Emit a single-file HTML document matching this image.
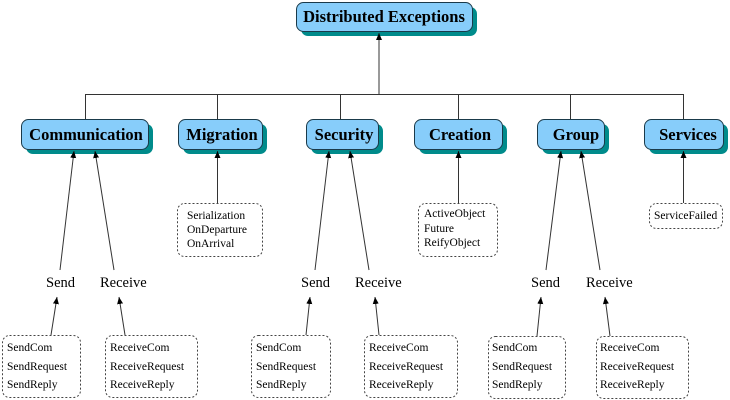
<!DOCTYPE html>
<html><head><meta charset="utf-8"><style>
html,body{margin:0;padding:0;background:#fff;}
svg{display:block;}
.b{font-family:"Liberation Serif",serif;font-weight:bold;font-size:16.5px;fill:#000;}
.t{font-family:"Liberation Serif",serif;font-size:11.5px;fill:#000;}
.l{font-family:"Liberation Serif",serif;font-size:14.5px;fill:#000;}
.ln{stroke:#333;stroke-width:1;fill:none;}
.d{fill:#fff;stroke:#444;stroke-width:1;stroke-dasharray:2,2;}
.n{fill:#87cdfa;stroke:#1a3a4a;stroke-width:1;}
.s{fill:#008b8b;}
</style></head><body>
<svg width="730" height="400" viewBox="0 0 730 400" xmlns="http://www.w3.org/2000/svg">
<defs><marker id="a" markerWidth="8" markerHeight="8" refX="7" refY="3" orient="auto" markerUnits="userSpaceOnUse"><path d="M0,0 L7,3 L0,6 z" fill="#000"/></marker></defs>

<rect class="s" x="301" y="7" width="176" height="29" rx="7"/>
<rect class="n" x="296.5" y="2.5" width="176" height="29" rx="7"/>
<text class="b" x="384" y="22" text-anchor="middle">Distributed Exceptions</text>

<line class="ln" x1="85" y1="94.5" x2="683" y2="94.5"/>
<line class="ln" x1="379" y1="94.5" x2="379" y2="33" marker-end="url(#a)"/>
<g class="ln">
<line x1="85.5" y1="94" x2="85.5" y2="119"/>
<line x1="217.5" y1="94" x2="217.5" y2="119"/>
<line x1="340.5" y1="94" x2="340.5" y2="119"/>
<line x1="458.5" y1="94" x2="458.5" y2="119"/>
<line x1="570.5" y1="94" x2="570.5" y2="119"/>
<line x1="683.5" y1="94" x2="683.5" y2="119"/>
</g>

<g>
<rect class="s" x="26" y="124" width="127" height="30" rx="7"/><rect class="n" x="21.5" y="119.5" width="127" height="30" rx="7"/>
<text class="b" x="86" y="140" text-anchor="middle">Communication</text>
<rect class="s" x="183" y="124" width="84" height="30" rx="7"/><rect class="n" x="178.5" y="119.5" width="84" height="30" rx="7"/>
<text class="b" x="222" y="140" text-anchor="middle">Migration</text>
<rect class="s" x="311" y="124" width="72" height="30" rx="7"/><rect class="n" x="306.5" y="119.5" width="72" height="30" rx="7"/>
<text class="b" x="344" y="140" text-anchor="middle">Security</text>
<rect class="s" x="419" y="124" width="88" height="30" rx="7"/><rect class="n" x="414.5" y="119.5" width="88" height="30" rx="7"/>
<text class="b" x="460" y="140" text-anchor="middle">Creation</text>
<rect class="s" x="542" y="124" width="67" height="30" rx="7"/><rect class="n" x="537.5" y="119.5" width="67" height="30" rx="7"/>
<text class="b" x="576" y="140" text-anchor="middle">Group</text>
<rect class="s" x="649" y="124" width="79" height="30" rx="7"/><rect class="n" x="644.5" y="119.5" width="79" height="30" rx="7"/>
<text class="b" x="688" y="140" text-anchor="middle">Services</text>
</g>

<rect class="d" x="177.5" y="203.5" width="85" height="53" rx="7"/>
<line class="ln" x1="217.5" y1="203" x2="217.5" y2="151" marker-end="url(#a)"/>
<text class="t" x="187" y="219">Serialization</text>
<text class="t" x="187" y="233">OnDeparture</text>
<text class="t" x="187" y="247">OnArrival</text>

<rect class="d" x="418.5" y="203.5" width="79" height="53" rx="7"/>
<line class="ln" x1="458.5" y1="203" x2="458.5" y2="151" marker-end="url(#a)"/>
<text class="t" x="424" y="217">ActiveObject</text>
<text class="t" x="424" y="232">Future</text>
<text class="t" x="424" y="246">ReifyObject</text>

<rect class="d" x="649.5" y="203.5" width="73" height="25" rx="7"/>
<line class="ln" x1="683.5" y1="203" x2="683.5" y2="151" marker-end="url(#a)"/>
<text class="t" x="654" y="219">ServiceFailed</text>

<g class="ln">
<line x1="60" y1="270" x2="74" y2="151" marker-end="url(#a)"/>
<line x1="114" y1="270" x2="95" y2="151" marker-end="url(#a)"/>
<line x1="315" y1="270" x2="329" y2="151" marker-end="url(#a)"/>
<line x1="369" y1="270" x2="350" y2="151" marker-end="url(#a)"/>
<line x1="546" y1="270" x2="561" y2="151" marker-end="url(#a)"/>
<line x1="600" y1="270" x2="581" y2="151" marker-end="url(#a)"/>
</g>
<text class="l" x="46" y="287">Send</text><text class="l" x="100" y="287">Receive</text>
<text class="l" x="301" y="287">Send</text><text class="l" x="355" y="287">Receive</text>
<text class="l" x="531" y="287">Send</text><text class="l" x="586" y="287">Receive</text>

<g>
<rect class="d" x="2.5" y="335.5" width="78" height="62" rx="7"/>
<line class="ln" x1="51" y1="335" x2="57" y2="297" marker-end="url(#a)"/>
<text class="t" x="7" y="351">SendCom</text><text class="t" x="7" y="370">SendRequest</text><text class="t" x="7" y="388">SendReply</text>

<rect class="d" x="105.5" y="335.5" width="92" height="62" rx="7"/>
<line class="ln" x1="125" y1="335" x2="119" y2="297" marker-end="url(#a)"/>
<text class="t" x="110" y="351">ReceiveCom</text><text class="t" x="110" y="370">ReceiveRequest</text><text class="t" x="110" y="388">ReceiveReply</text>

<rect class="d" x="251.5" y="335.5" width="79" height="62" rx="7"/>
<line class="ln" x1="306" y1="335" x2="310" y2="297" marker-end="url(#a)"/>
<text class="t" x="256" y="351">SendCom</text><text class="t" x="256" y="370">SendRequest</text><text class="t" x="256" y="388">SendReply</text>

<rect class="d" x="364.5" y="335.5" width="93" height="62" rx="7"/>
<line class="ln" x1="379" y1="335" x2="375" y2="297" marker-end="url(#a)"/>
<text class="t" x="369" y="351">ReceiveCom</text><text class="t" x="369" y="370">ReceiveRequest</text><text class="t" x="369" y="388">ReceiveReply</text>

<rect class="d" x="488.5" y="336.5" width="77" height="62" rx="7"/>
<line class="ln" x1="537" y1="336" x2="541" y2="297" marker-end="url(#a)"/>
<text class="t" x="492" y="351">SendCom</text><text class="t" x="492" y="370">SendRequest</text><text class="t" x="492" y="388">SendReply</text>

<rect class="d" x="596.5" y="336.5" width="92" height="62" rx="7"/>
<line class="ln" x1="610" y1="336" x2="605" y2="297" marker-end="url(#a)"/>
<text class="t" x="600" y="351">ReceiveCom</text><text class="t" x="600" y="370">ReceiveRequest</text><text class="t" x="600" y="388">ReceiveReply</text>
</g>
</svg>
</body></html>
